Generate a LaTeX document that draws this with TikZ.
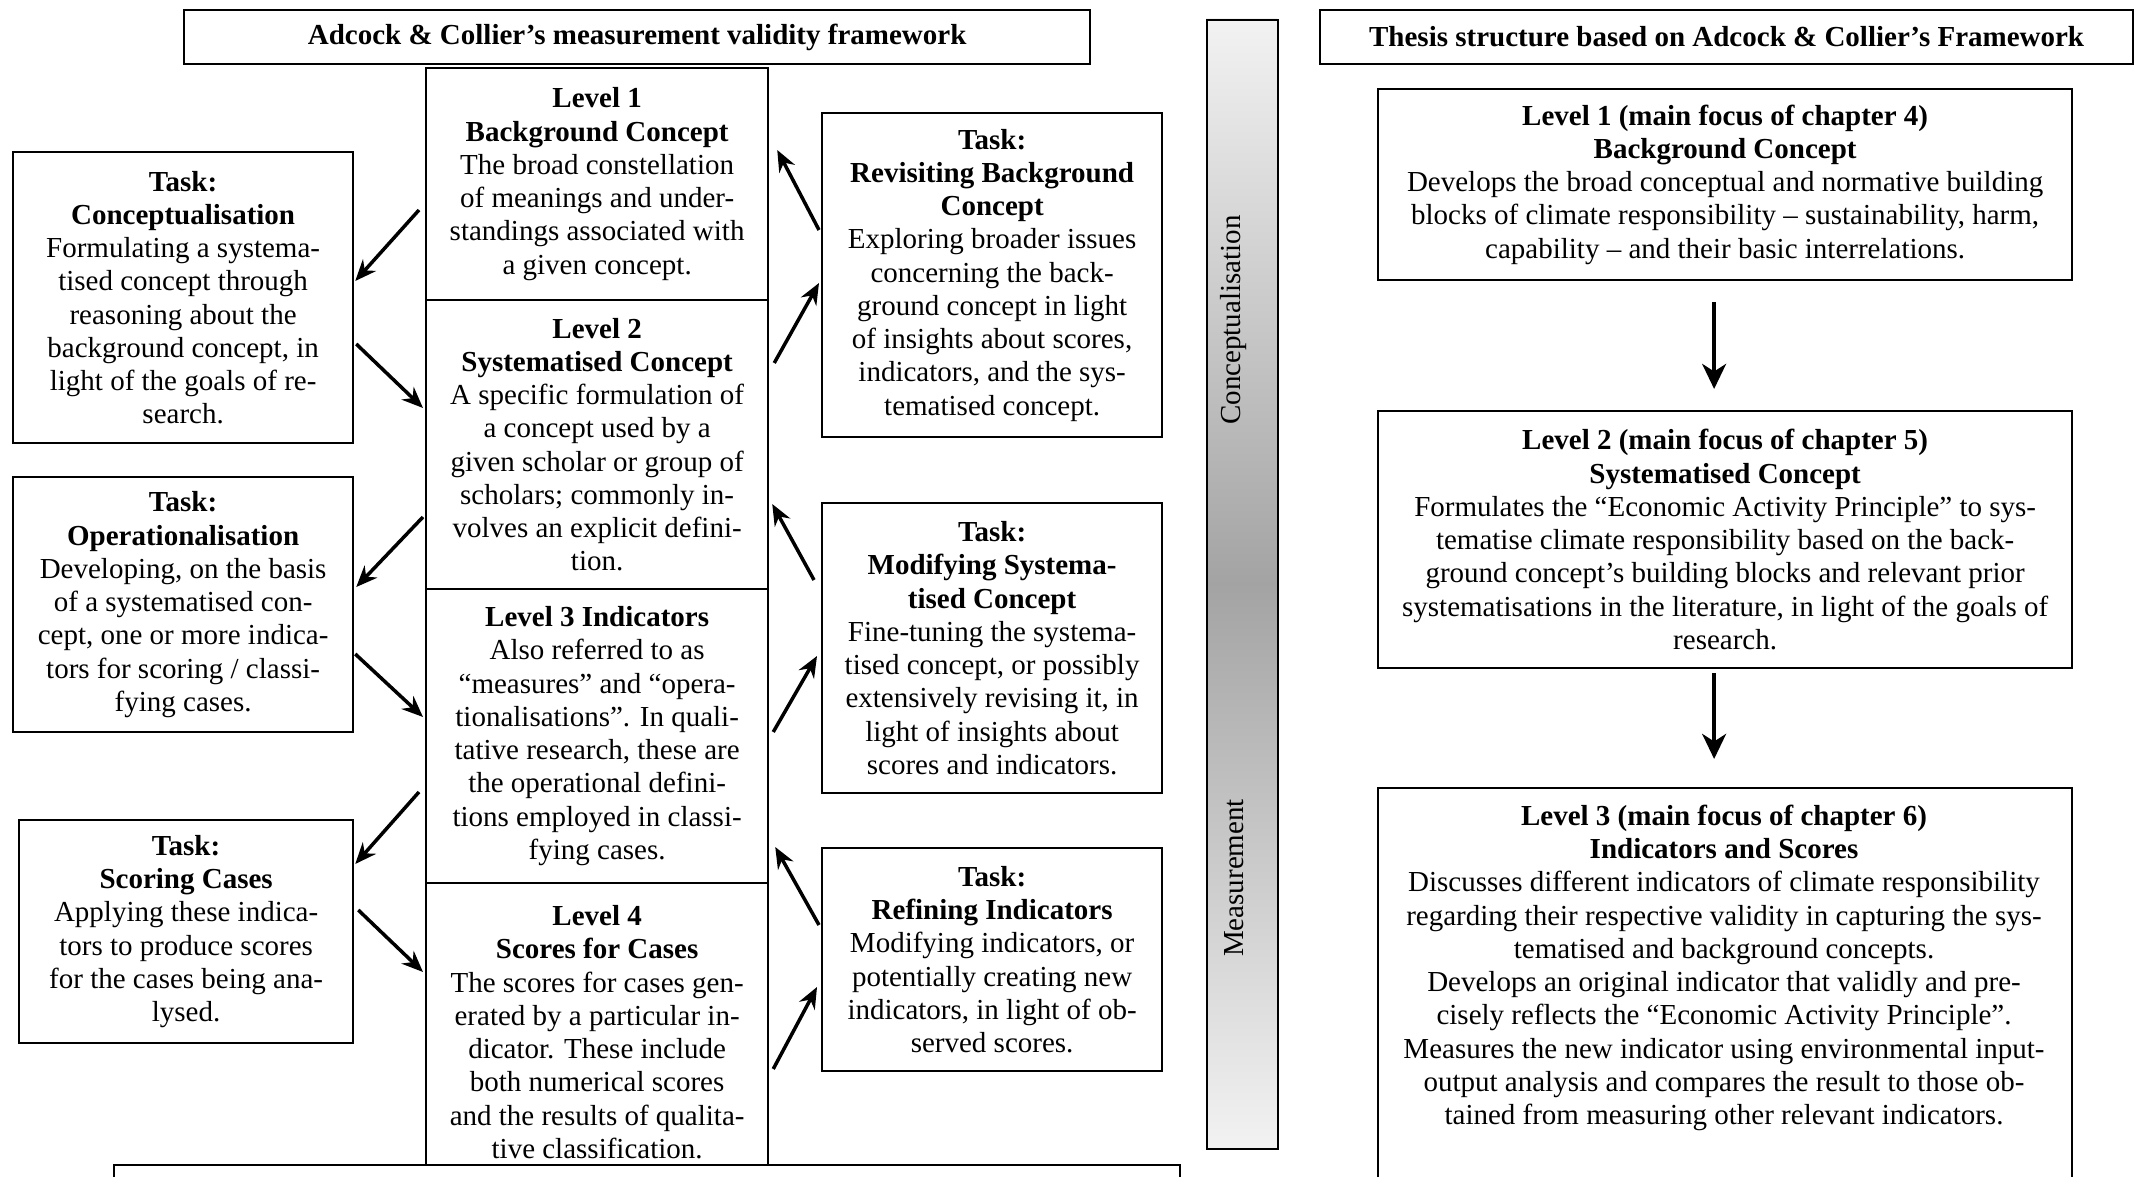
\documentclass[tikz,border=0pt]{standalone}
\usepackage{fontspec}
\setmainfont{Liberation Serif}
\usetikzlibrary{arrows.meta,calc}
\tikzset{
 txt/.style={align=center, inner sep=0pt, font=\fontsize{11.6}{13.3}\selectfont},
 box/.style={txt, draw, line width=0.9pt, fill=white},
 sz/.style 2 args={minimum width={#1*0.4pt}, minimum height={#2*0.4pt}},
 arr/.style={line width=1.4pt, -{Stealth[length=8.5pt,width=7pt,inset=2.8pt]}},
 varr/.style={line width=1.8pt, -{Stealth[length=10pt,width=9.5pt,inset=3pt]}},
 vlabel/.style={txt, rotate=90}
}
\begin{document}
\begin{tikzpicture}[x=0.4pt,y=-0.4pt]
\useasboundingbox (0,0) rectangle (2134,1177);
\clip (0,0) rectangle (2134,1177);
\fill[white] (0,0) rectangle (2134,1177);

% ---------- left framework ----------
\node[box, sz={906}{54}, anchor=north west] (TL) at (183,9)
 {\textbf{Adcock \& Collier’s measurement validity framework}};

\node[box, sz={342}{232}, anchor=north west] (L1) at (425,67)
 {\textbf{Level 1}\\ \textbf{Background Concept}\\ The broad constellation\\ of meanings and under-\\ standings associated with\\ a given concept.};
\node[box, sz={342}{289}, anchor=north west] (L2) at (425,299)
 {\textbf{Level 2}\\ \textbf{Systematised Concept}\\ A specific formulation of\\ a concept used by a\\ given scholar or group of\\ scholars; commonly in-\\ volves an explicit defini-\\ tion.};
\node[box, sz={342}{294}, anchor=north west] (L3) at (425,588)
 {\textbf{Level 3 Indicators}\\ Also referred to as\\ “measures” and “opera-\\ tionalisations”. In quali-\\ tative research, these are\\ the operational defini-\\ tions employed in classi-\\ fying cases.};
\node[box, sz={342}{298}, anchor=north west] (L4) at (425,882)
 {\textbf{Level 4}\\ \textbf{Scores for Cases}\\ The scores for cases gen-\\ erated by a particular in-\\ dicator. These include\\ both numerical scores\\ and the results of qualita-\\ tive classification.};
\node[box, sz={1066}{60}, anchor=north west] (BB) at (113,1164) {};

\node[box, sz={340}{291}, anchor=north west] (TC) at (12,151)
 {\textbf{Task:}\\ \textbf{Conceptualisation}\\ Formulating a systema-\\ tised concept through\\ reasoning about the\\ background concept, in\\ light of the goals of re-\\ search.};
\node[box, sz={340}{255}, anchor=north west] (TO) at (12,476)
 {\textbf{Task:}\\ \textbf{Operationalisation}\\ Developing, on the basis\\ of a systematised con-\\ cept, one or more indica-\\ tors for scoring / classi-\\ fying cases.};
\node[box, sz={334}{223}, anchor=north west] (TS) at (18,819)
 {\textbf{Task:}\\ \textbf{Scoring Cases}\\ Applying these indica-\\ tors to produce scores\\ for the cases being ana-\\ lysed.};

\node[box, sz={340}{324}, anchor=north west] (TR) at (821,112)
 {\textbf{Task:}\\ \textbf{Revisiting Background}\\ \textbf{Concept}\\ Exploring broader issues\\ concerning the back-\\ ground concept in light\\ of insights about scores,\\ indicators, and the sys-\\ tematised concept.};
\node[box, sz={340}{290}, anchor=north west] (TM) at (821,502)
 {\textbf{Task:}\\ \textbf{Modifying Systema-}\\ \textbf{tised Concept}\\ Fine-tuning the systema-\\ tised concept, or possibly\\ extensively revising it, in\\ light of insights about\\ scores and indicators.};
\node[box, sz={340}{223}, anchor=north west] (TF) at (821,847)
 {\textbf{Task:}\\ \textbf{Refining Indicators}\\ Modifying indicators, or\\ potentially creating new\\ indicators, in light of ob-\\ served scores.};

% arrows left side
\draw[arr] ($(L1.north west)+(-6,143)$) -- ($(TC.north east)+(1,130)$);
\draw[arr] ($(TC.north east)+(2,193)$) -- ($(L2.north west)+(-2,109)$);
\draw[arr] ($(L2.north west)+(-2,218)$) -- ($(TO.north east)+(2,111)$);
\draw[arr] ($(TO.north east)+(1,178)$) -- ($(L3.north west)+(-2,129)$);
\draw[arr] ($(L3.north west)+(-6,204)$) -- ($(TS.north east)+(1,45)$);
\draw[arr] ($(TS.north east)+(4,91)$) -- ($(L4.north west)+(-2,90)$);
% arrows right side
\draw[arr] ($(TR.north west)+(-2,118)$) -- ($(L1.north east)+(8,83)$);
\draw[arr] ($(L2.north east)+(5,64)$) -- ($(TR.north west)+(-2,171)$);
\draw[arr] ($(TM.north west)+(-7,78)$) -- ($(L2.north east)+(3,205)$);
\draw[arr] ($(L3.north east)+(4,144)$) -- ($(TM.north west)+(-4,154)$);
\draw[arr] ($(TF.north west)+(-2,78)$) -- ($(L3.north east)+(6,259)$);
\draw[arr] ($(L4.north east)+(4,187)$) -- ($(TF.north west)+(-4,140)$);

% ---------- gradient bar ----------
\shade[top color=black!5, bottom color=black!36] (1206,19) rectangle (1277,584);
\shade[top color=black!36, bottom color=black!5] (1206,583) rectangle (1277,1148);
\node[draw, line width=0.9pt, inner sep=0pt, sz={71}{1129}, anchor=north west] (bar) at (1206,19) {};
\node[vlabel] (conc) at (1234,320) {Conceptualisation};
\node[vlabel] (meas) at (1234,878) {Measurement};

% ---------- right thesis structure ----------
\node[box, sz={813}{54}, anchor=north west] (TTR) at (1319,9)
 {\textbf{Thesis structure based on Adcock \& Collier’s Framework}};
\node[box, sz={694}{191}, anchor=north west] (R1) at (1377,88)
 {\textbf{Level 1 (main focus of chapter 4)}\\ \textbf{Background Concept}\\ Develops the broad conceptual and normative building\\ blocks of climate responsibility – sustainability, harm,\\ capability – and their basic interrelations.};
\node[box, sz={694}{257}, anchor=north west] (R2) at (1377,410)
 {\textbf{Level 2 (main focus of chapter 5)}\\ \textbf{Systematised Concept}\\ Formulates the “Economic Activity Principle” to sys-\\ tematise climate responsibility based on the back-\\ ground concept’s building blocks and relevant prior\\ systematisations in the literature, in light of the goals of\\ research.};
\node[box, sz={694}{460}, anchor=north west] (R3) at (1377,787) {};
\node[txt] (R3t) at (1724,968)
 {\textbf{Level 3 (main focus of chapter 6)}\\ \textbf{Indicators and Scores}\\ Discusses different indicators of climate responsibility\\ regarding their respective validity in capturing the sys-\\ tematised and background concepts.\\ Develops an original indicator that validly and pre-\\ cisely reflects the “Economic Activity Principle”.\\ Measures the new indicator using environmental input-\\ output analysis and compares the result to those ob-\\ tained from measuring other relevant indicators.};

\draw[varr] ($(R1.south)+(-11,21)$) -- ($(R2.north)+(-11,-21)$);
\draw[varr] ($(R2.south)+(-11,4)$) -- ($(R3.north)+(-11,-28)$);
\end{tikzpicture}
\end{document}
